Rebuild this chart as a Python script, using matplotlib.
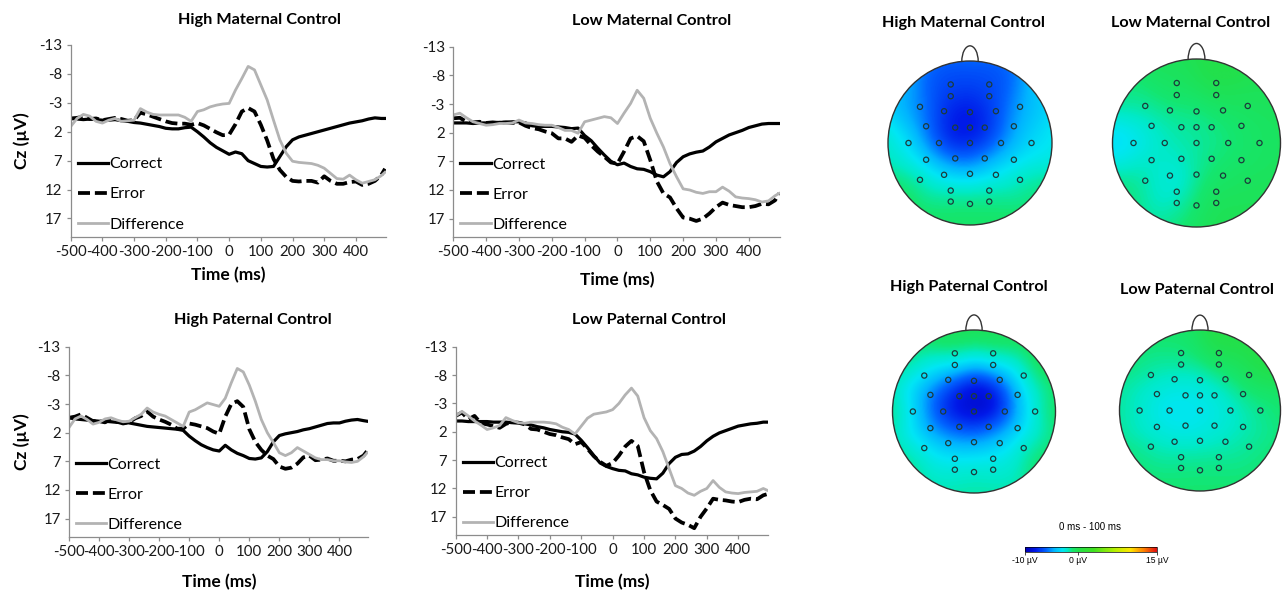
import numpy as np
import matplotlib
matplotlib.use('Agg')
import matplotlib.pyplot as plt
from matplotlib.patches import Circle, Arc
from matplotlib.colors import LinearSegmentedColormap, Normalize
from matplotlib.cm import ScalarMappable

plt.rcParams['font.family'] = ['Lato', 'DejaVu Sans']

# ---- ERP waveforms (Cz, uV), every 20 ms ----
time_ms = np.array(list(range(-500, 481, 20)) + [492])

hm_correct = [-0.3, -0.2, -0.1, -0.2, -0.1, 0.0, 0.0, -0.1, 0.1, 0.2,
              0.4, 0.5, 0.7, 0.9, 1.1, 1.4, 1.5, 1.5, 1.3, 1.2,
              2.0, 2.9, 3.9, 4.7, 5.3, 5.9, 5.5, 5.8, 7.0, 7.5,
              8.0, 8.1, 8.0, 6.3, 4.6, 3.4, 2.9, 2.6, 2.3, 2.0,
              1.7, 1.4, 1.1, 0.8, 0.5, 0.3, 0.1, -0.2, -0.4, -0.3,
              -0.3]
hm_error = [-0.3, -0.4, -0.6, -0.2, -0.3, 0.0, -0.2, -0.4, -0.2, 0.1,
            0.0, -1.3, -1.0, -0.6, -0.2, 0.2, 0.5, 0.6, 0.6, 0.8,
            0.5, 0.9, 1.5, 2.1, 2.6, 2.5, 0.7, -1.5, -2.1, -1.5,
            0.8, 3.5, 6.7, 8.6, 9.8, 10.5, 10.6, 10.5, 10.5, 10.8,
            9.7, 10.5, 11.0, 11.0, 10.7, 10.6, 11.2, 11.0, 10.5, 9.5,
            8.4]
hm_diff = [1.1, -0.3, -1.0, -0.7, 0.2, 0.5, 0.0, -0.3, 0.2, 0.1,
           0.0, -2.0, -1.4, -1.0, -0.9, -0.9, -0.9, -0.9, -0.5, 0.2,
           -1.5, -1.8, -2.3, -2.6, -2.8, -2.9, -5.2, -7.2, -9.3, -8.7,
           -6.1, -3.5, 0.0, 3.4, 5.7, 7.1, 7.3, 7.4, 7.5, 7.8,
           8.3, 9.2, 10.1, 10.2, 9.5, 10.3, 10.9, 10.6, 10.3, 9.6,
           9.0]

lm_correct = [0.3, 0.3, 0.3, 0.4, 0.3, 0.3, 0.3, 0.2, 0.2, 0.1,
              0.1, 0.3, 0.8, 0.9, 0.9, 0.9, 1.0, 1.1, 1.3, 1.2,
              2.5, 3.4, 4.7, 5.9, 7.0, 7.6, 7.3, 7.9, 8.3, 8.4,
              8.8, 9.4, 9.7, 8.8, 7.2, 6.2, 5.7, 5.4, 5.2, 4.5,
              3.6, 3.0, 2.4, 2.0, 1.6, 1.1, 0.8, 0.5, 0.4, 0.4,
              0.4]
lm_error = [-0.5, -0.6, 0.1, 0.2, 0.1, 0.3, 0.2, 0.3, 0.2, 0.3,
            0.2, 0.8, 1.2, 1.4, 1.8, 2.1, 3.0, 3.0, 3.6, 2.5,
            2.9, 4.2, 5.3, 6.2, 7.2, 7.4, 5.3, 3.0, 2.6, 3.5,
            6.8, 10.5, 12.6, 13.3, 15.2, 16.8, 17.0, 17.4, 17.0, 16.1,
            15.0, 14.2, 14.6, 14.8, 15.0, 15.0, 14.8, 14.4, 14.5, 13.8,
            12.6]
lm_diff = [-1.1, -1.4, -0.6, 0.1, 0.4, 0.7, 0.6, 0.4, 0.4, 0.3,
           -0.2, 0.3, 0.4, 0.6, 0.7, 0.7, 1.1, 1.6, 1.6, 2.1,
           0.1, -0.2, -0.5, -0.8, -0.6, 0.4, -1.4, -3.1, -5.4, -4.0,
           -0.5, 2.1, 4.5, 7.4, 9.7, 11.8, 12.0, 12.4, 12.6, 12.3,
           12.3, 11.5, 12.2, 13.2, 13.4, 13.5, 13.7, 14.1, 13.9, 13.0,
           12.6]

hp_correct = [-0.6, -0.4, -0.3, -0.2, -0.1, 0.0, 0.0, 0.1, 0.2, 0.2,
              0.3, 0.5, 0.7, 0.9, 1.0, 1.1, 1.2, 1.3, 1.4, 1.6,
              2.6, 3.4, 4.1, 4.6, 5.0, 5.2, 4.2, 5.0, 5.6, 6.0,
              6.5, 6.6, 6.4, 5.3, 3.6, 2.5, 2.2, 2.0, 1.8, 1.5,
              1.3, 1.0, 0.7, 0.4, 0.3, 0.3, 0.0, -0.2, -0.3, -0.1,
              0.0]
hp_error = [-0.6, -0.8, -1.2, -0.6, 0.0, 0.0, 0.2, -0.4, 0.1, 0.4,
            0.2, -0.5, -0.9, -1.7, -0.8, -0.3, 0.1, 0.6, 1.3, 1.3,
            0.4, 0.6, 0.9, 1.2, 1.8, 2.2, -0.8, -3.0, -3.5, -2.5,
            1.4, 3.6, 5.0, 6.0, 6.6, 7.9, 8.3, 8.1, 7.4, 6.3,
            6.0, 6.8, 6.7, 6.5, 6.9, 6.9, 7.0, 6.7, 6.6, 6.0,
            5.2]
hp_diff = [1.1, -0.4, -0.9, -0.3, 0.5, 0.2, -0.4, -0.6, -0.2, 0.1,
           0.0, -0.6, -1.2, -2.3, -1.6, -1.2, -0.9, -0.3, 0.3, 0.9,
           -1.6, -2.0, -2.6, -3.2, -2.9, -2.6, -4.0, -6.7, -9.2, -8.6,
           -6.3, -3.5, -0.3, 2.0, 3.7, 5.5, 6.0, 5.5, 4.6, 5.2,
           5.8, 6.4, 6.7, 6.7, 6.9, 6.9, 7.1, 7.2, 7.0, 6.2,
           5.5]

lp_correct = [0.1, 0.1, 0.2, 0.2, 0.2, 0.2, 0.3, 0.3, 0.3, 0.4,
              0.4, 0.6, 0.8, 1.1, 1.3, 1.6, 1.8, 2.0, 2.1, 2.4,
              3.5, 4.8, 6.2, 7.5, 8.1, 8.5, 8.8, 8.9, 9.4, 9.6,
              10.0, 10.2, 10.3, 9.3, 7.6, 6.5, 6.0, 5.9, 5.4, 4.6,
              3.6, 2.8, 2.2, 1.8, 1.4, 1.0, 0.8, 0.6, 0.5, 0.3,
              0.3]
lp_error = [-0.8, -1.4, -0.2, -0.8, 0.5, 0.7, 1.0, 1.3, 0.6, 0.3,
            0.4, 0.7, 1.5, 1.6, 2.0, 2.4, 2.6, 3.0, 3.3, 4.2,
            3.8, 5.0, 6.3, 7.3, 8.0, 7.5, 6.2, 4.6, 3.6, 4.5,
            9.1, 12.3, 14.3, 14.9, 15.6, 17.3, 18.0, 18.4, 19.0, 17.0,
            15.5, 13.8, 14.0, 14.1, 14.3, 14.4, 14.0, 13.8, 13.9, 13.2,
            13.0]
lp_diff = [-0.8, -1.6, -0.8, 0.1, 0.8, 1.6, 1.3, 0.9, -0.5, 0.0,
           0.4, 0.5, 0.3, 0.3, 0.3, 0.4, 0.6, 1.2, 1.6, 2.4,
           1.0, -0.4, -1.1, -1.3, -1.5, -1.9, -3.0, -4.5, -5.7, -4.3,
           -0.5, 1.8, 3.2, 5.5, 8.5, 11.5, 12.0, 12.8, 13.2, 12.5,
           12.0, 10.6, 11.8, 12.6, 12.8, 12.9, 12.7, 12.6, 12.5, 12.0,
           12.3]

series_labels = ['Correct', 'Error', 'Difference']
xtick_vals = [-500, -400, -300, -200, -100, 0, 100, 200, 300, 400]
ytick_vals = [-13, -8, -3, 2, 7, 12, 17]

# ---- topographic maps, 0-100 ms (uV at each electrode) ----
elec_x = [-0.235, 0.235, -0.235, 0.235, -0.61, 0.61, -0.316, 0.316, 0.0,
          -0.535, 0.535, -0.18, 0.0, 0.18, -0.75, -0.378, 0.0, 0.378, 0.75,
          -0.535, 0.535, -0.18, 0.18, -0.316, 0.316, 0.0, -0.61, 0.61,
          -0.235, 0.235, -0.235, 0.235, 0.0]
elec_y = [0.714, 0.714, 0.571, 0.571, 0.441, 0.441, 0.388, 0.388, 0.376,
          0.204, 0.204, 0.188, 0.188, 0.188, 0.0, 0.0, 0.0, 0.0, 0.0,
          -0.204, -0.204, -0.188, -0.188, -0.388, -0.388, -0.376, -0.449, -0.449,
          -0.580, -0.580, -0.714, -0.714, -0.743]

topo_hm = [-6.5, -6.5, -7.0, -7.0, -4.5, -4.0, -8.0, -7.0, -8.5,
           -5.0, -4.0, -8.8, -8.8, -8.0, -2.0, -8.0, -8.0, -6.0, -3.0,
           -3.0, -3.0, -6.5, -5.0, -3.5, -3.0, -4.5, -0.5, -1.0,
           -1.5, -1.5, -0.5, -0.5, -0.8]
topo_lm = [-0.3, 0.3, -0.6, 0.0, -1.2, -0.3, -1.2, -0.8, -1.2,
           -2.5, -0.8, -1.6, -1.6, -1.3, -3.8, -1.8, -1.6, -1.2, -0.5,
           -1.8, -0.8, -2.0, -1.2, -3.2, -0.6, -1.2, -1.0, -0.3,
           -3.5, -0.6, -1.0, 0.0, -0.3]
topo_hp = [0.0, 0.0, -1.0, -1.0, -0.8, 0.0, -6.5, -7.0, -8.0,
           -6.5, -3.0, -9.0, -10.0, -11.5, -0.8, -8.5, -9.5, -8.0, -0.5,
           -5.5, -3.5, -7.0, -6.5, -4.5, -3.5, -5.0, -1.0, -0.5,
           -3.0, -3.0, -1.5, -1.5, -1.5]
topo_lp = [-0.8, 0.5, -1.2, -0.3, -1.0, 0.5, -2.5, -1.5, -2.0,
           -2.8, -1.2, -3.0, -3.0, -2.5, -1.5, -3.5, -3.0, -2.5, -1.0,
           -2.8, -2.0, -3.0, -2.5, -2.5, -2.0, -2.5, -1.0, -1.0,
           -1.5, -1.5, -0.8, -0.8, -1.0]

cbar_ticks = [-10, 0, 15]
cbar_labels = ['-10 \u00b5V', '0 \u00b5V', '15 \u00b5V']

W, H = 1288, 594
fig = plt.figure(figsize=(W / 100, H / 100), dpi=100)


def px_axes(x0, y0, x1, y1):
    return fig.add_axes([x0 / W, 1 - y1 / H, (x1 - x0) / W, (y1 - y0) / H])


def ftext(x, y, s, **kw):
    return fig.text(x / W, 1 - y / H, s, ha='center', va='center', **kw)


erp_panels = [
    ('High Maternal Control', hm_correct, hm_error, hm_diff, (70.7, 45, 386, 237), (260, 20), (228, 275), True),
    ('Low Maternal Control', lm_correct, lm_error, lm_diff, (453.3, 46.7, 780, 237), (652, 21), (617, 280), False),
    ('High Paternal Control', hp_correct, hp_error, hp_diff, (69, 346.7, 368, 537), (253, 320), (219, 582), True),
    ('Low Paternal Control', lp_correct, lp_error, lp_diff, (455.7, 346.7, 768, 535), (649, 320), (612, 582), False),
]

axis_grey = '#8c8c8c'
for title, corr, err, diff, box, tpos, xlpos, has_ylabel in erp_panels:
    ax = px_axes(*box)
    ax.plot(time_ms, corr, color='black', lw=2.3, label=series_labels[0])
    ax.plot(time_ms, err, color='black', lw=2.7, ls=(0, (3.2, 1.3)), label=series_labels[1])
    ax.plot(time_ms, diff, color='#b3b3b3', lw=2.0, label=series_labels[2])
    ax.set_xlim(-500, 495)
    ax.set_ylim(20.2, -13)
    ax.set_xticks(xtick_vals)
    ax.set_xticklabels([str(v) for v in xtick_vals])
    ax.set_yticks(ytick_vals)
    ax.set_yticklabels([str(v) for v in ytick_vals])
    for s in ('top', 'right'):
        ax.spines[s].set_visible(False)
    for s in ('left', 'bottom'):
        ax.spines[s].set_color(axis_grey)
        ax.spines[s].set_linewidth(0.9)
    ax.tick_params(direction='out', length=3, width=0.9, color=axis_grey,
                   labelsize=10.8, labelcolor='#1a1a1a', pad=3)
    ax.legend(loc='center left', bbox_to_anchor=(0.022, 0.222), frameon=False,
              fontsize=11.5, handlelength=1.9, handletextpad=0.1,
              labelspacing=1.0, borderpad=0, borderaxespad=0)
    ftext(*tpos, title, fontsize=11.7, fontweight='bold')
    ftext(*xlpos, 'Time (ms)', fontsize=12.5, fontweight='bold')
    if has_ylabel:
        ftext(22, (box[1] + box[3]) / 2, 'Cz (\u00b5V)', fontsize=12.5, fontweight='bold', rotation=90)

# ---- topomaps ----
topo_cmap = LinearSegmentedColormap.from_list('topo', [
    (0.00, '#0000b4'), (0.08, '#0018e8'), (0.16, '#0064ff'), (0.22, '#00b4ff'),
    (0.28, '#00e6f5'), (0.32, '#00eac8'), (0.36, '#14e670'), (0.40, '#22e04c'),
    (0.52, '#40e020'), (0.68, '#b4f000'), (0.80, '#ffe600'), (0.90, '#ff8000'),
    (1.00, '#e01010')])
topo_norm = Normalize(-10, 15)

ex = np.array(elec_x)
ey = np.array(elec_y)
gx, gy = np.meshgrid(np.linspace(-1, 1, 241), np.linspace(-1, 1, 241))
d2 = (gx[..., None] - ex) ** 2 + (gy[..., None] - ey) ** 2
wts = np.exp(-d2 / (2 * 0.21 ** 2))

topo_panels = [
    ('High Maternal Control', topo_hm, (970, 143), 82, (963, 23)),
    ('Low Maternal Control', topo_lm, (1196.5, 143), 84, (1191, 23)),
    ('High Paternal Control', topo_hp, (974, 411.5), 81.5, (969, 287)),
    ('Low Paternal Control', topo_lp, (1200, 410.5), 80.5, (1197, 290)),
]
for title, vals, (cx, cy), r, tpos in topo_panels:
    ax = px_axes(cx - 1.2 * r, cy - 1.2 * r, cx + 1.2 * r, cy + 1.2 * r)
    ax.set_xlim(-1.2, 1.2)
    ax.set_ylim(-1.2, 1.2)
    ax.axis('off')
    field = (wts * np.array(vals)).sum(-1) / (wts.sum(-1) + 0.06)
    im = ax.imshow(field, extent=(-1, 1, -1, 1), origin='lower', cmap=topo_cmap,
                   norm=topo_norm, interpolation='bilinear')
    clip = Circle((0, 0), 1, transform=ax.transData)
    im.set_clip_path(clip)
    ax.add_patch(Circle((0, 0), 1, fill=False, ec='#333333', lw=1.0))
    ax.add_patch(Arc((0, 0.995), 0.2, 0.38, theta1=0, theta2=180, ec='#333333', lw=1.0))
    ax.scatter(ex, ey, s=14, facecolors='none', edgecolors='#1c3c3c', linewidths=0.9)
    ftext(*tpos, title, fontsize=11.7, fontweight='bold')

cax = px_axes(1025, 547, 1157, 551.5)
cb = fig.colorbar(ScalarMappable(norm=topo_norm, cmap=topo_cmap), cax=cax, orientation='horizontal')
cb.set_ticks(cbar_ticks)
cb.set_ticklabels(cbar_labels)
cb.outline.set_linewidth(0.5)
cax.tick_params(length=2, width=0.5, labelsize=6.2, pad=1.5)
for lab in cax.get_xticklabels():
    lab.set_family(['Liberation Sans', 'DejaVu Sans'])
ftext(1090, 527, '0 ms - 100 ms', fontsize=7, family=['Liberation Sans', 'DejaVu Sans'])

fig.savefig('out.png', dpi=100, facecolor='white')
